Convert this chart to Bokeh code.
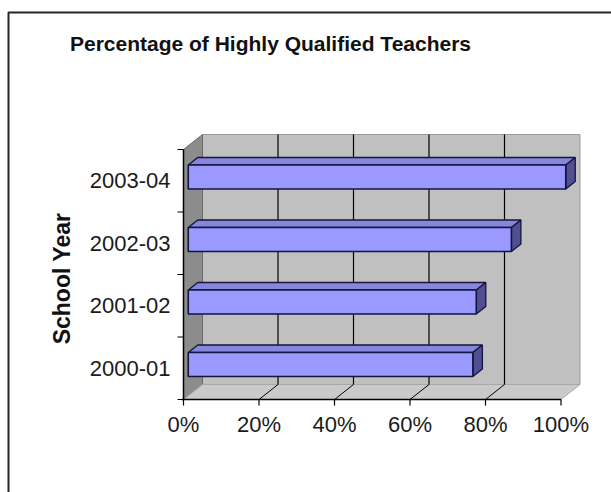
from bokeh.plotting import figure
from bokeh.models import Range1d, ColumnDataSource
from bokeh.core.properties import value
from bokeh.embed import file_html
from bokeh.resources import INLINE
import math

# ---- data ----
title_text = "Percentage of Highly Qualified Teachers"
y_title = "School Year"
years = ["2000-01", "2001-02", "2002-03", "2003-04"]
pct = [75.4, 76.3, 85.6, 100.0]
x_ticks = [0, 20, 40, 60, 80, 100]
x_tick_labels = ["0%", "20%", "40%", "60%", "80%", "100%"]

# ---- geometry (pixels -> data units) ----
W, H = 611, 492
X0_PX, Y0_PX = 183, 399          # origin of front axes in pixels
PX_PER_PCT = 3.775               # horizontal scale
PX_PER_CAT = 62.5                # vertical scale
DX = 19 / PX_PER_PCT             # depth shift in x (data)
DY = 15 / PX_PER_CAT             # depth shift in y (data)
BAR_H = 24 / PX_PER_CAT
NCAT = len(years)

def px_x(px):
    return (px - X0_PX) / PX_PER_PCT

def px_y(py):
    return (Y0_PX - py) / PX_PER_CAT

p = figure(width=W, height=H, output_backend="svg", toolbar_location=None,
           x_range=Range1d(px_x(0), px_x(W)), y_range=Range1d(px_y(H), px_y(0)),
           min_border=0, min_border_left=0, min_border_right=0,
           min_border_top=0, min_border_bottom=0,
           x_axis_type=None, y_axis_type=None)
p.grid.visible = False
p.outline_line_color = None
p.background_fill_color = "white"
p.border_fill_color = "white"

FONT = value("Liberation Sans")

# outer chart-area border (extends beyond the window on right/bottom)
p.quad(left=[px_x(8)], right=[px_x(W + 40)], top=[px_y(12)], bottom=[px_y(H + 40)],
       fill_alpha=0, line_color="#262626", line_width=2)

xmax = x_ticks[-1]
top = NCAT

# back wall
p.quad(left=[DX], right=[xmax + DX], bottom=[DY], top=[top + DY],
       fill_color="#c0c0c0", line_color="#9a9a9a", line_width=1)
# left wall
p.patches(xs=[[0, DX, DX, 0]], ys=[[0, DY, top + DY, top]],
          fill_color="#8c8c8c", line_color="#6a6a6a", line_width=1)
# floor
p.patches(xs=[[0, DX, xmax + DX, xmax]], ys=[[0, DY, DY, 0]],
          fill_color="#cacaca", line_color="#a8a8a8", line_width=1)

# gridlines on back wall and floor
inner = x_ticks[1:-1]
p.segment(x0=[t + DX for t in inner], y0=[DY] * len(inner),
          x1=[t + DX for t in inner], y1=[top + DY] * len(inner),
          line_color="black", line_width=1.2)
p.segment(x0=inner, y0=[0] * len(inner),
          x1=[t + DX for t in inner], y1=[DY] * len(inner),
          line_color="black", line_width=1)

# bars (3D)
f1, f2 = 0.25, 0.75
fx, fy, tx, ty, sx, sy = [], [], [], [], [], []
for i, v in enumerate(pct):
    c = i + 0.5
    b = c - BAR_H / 2 + f1 * DY
    t = c + BAR_H / 2 + f1 * DY
    l = f1 * DX
    r = v + f1 * DX
    fx.append([l, r, r, l]); fy.append([b, b, t, t])
    tx.append([l, r, v + f2 * DX, f2 * DX]); ty.append([t, t, t + (f2 - f1) * DY, t + (f2 - f1) * DY])
    sx.append([r, v + f2 * DX, v + f2 * DX, r]); sy.append([b, b + (f2 - f1) * DY, t + (f2 - f1) * DY, t])

p.patches(xs=tx, ys=ty, fill_color="#8686dc", line_color="#14143c", line_width=1.3)
p.patches(xs=sx, ys=sy, fill_color="#505090", line_color="#14143c", line_width=1.3)
p.patches(xs=fx, ys=fy, fill_color="#9999ff", line_color="#14143c", line_width=1.6)

# front axes
p.segment(x0=[0], y0=[0], x1=[0], y1=[top], line_color="black", line_width=1.5)
p.segment(x0=[px_x(X0_PX - 2)], y0=[0], x1=[xmax], y1=[0], line_color="black", line_width=1.5)
cat_edges = list(range(NCAT + 1))
p.segment(x0=[0] * len(cat_edges), y0=cat_edges, x1=[px_x(X0_PX - 6)] * len(cat_edges),
          y1=cat_edges, line_color="black", line_width=1.2)
p.segment(x0=x_ticks, y0=[0] * len(x_ticks), x1=x_ticks, y1=[px_y(Y0_PX + 6)] * len(x_ticks),
          line_color="black", line_width=1.2)

# tick labels
p.text(x=x_ticks, y=[px_y(424)] * len(x_ticks), text=x_tick_labels,
       text_font=FONT, text_font_size="22px", text_color="#1a1a1a",
       text_align="center", text_baseline="middle")
p.text(x=[px_x(170)] * NCAT, y=[i + 0.5 for i in range(NCAT)], text=years,
       text_font=FONT, text_font_size="22px", text_color="#1a1a1a",
       text_align="right", text_baseline="middle")

# axis title
p.text(x=[px_x(61)], y=[px_y(278)], text=[y_title], angle=math.pi / 2,
       text_font=FONT, text_font_size="23px", text_font_style="bold", text_color="#111111",
       text_align="center", text_baseline="middle")

# chart title
p.text(x=[px_x(270)], y=[px_y(43)], text=[title_text],
       text_font=FONT, text_font_size="21px", text_font_style="bold", text_color="#111111",
       text_align="center", text_baseline="middle")

open("out.html", "w").write(file_html(p, INLINE))
